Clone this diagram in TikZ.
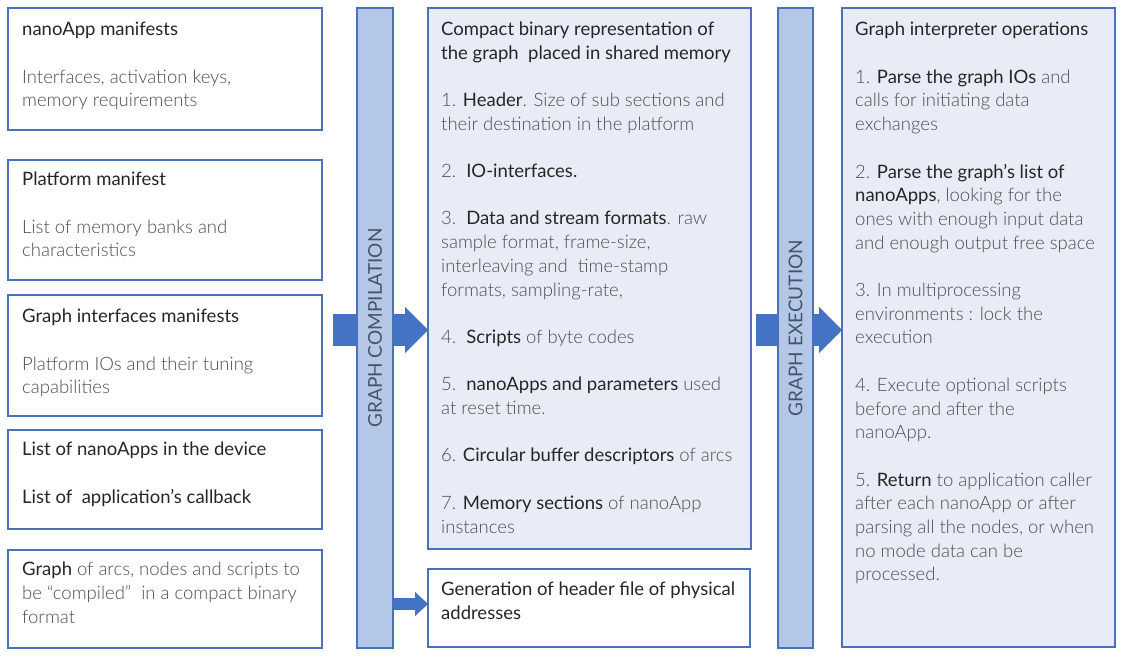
\documentclass[tikz,border=0pt]{standalone}
\usepackage{fontspec}
\setmainfont{Lato Light}
\newfontfamily\regfont{Lato}
\usepackage{xcolor}
\usetikzlibrary{arrows.meta}
\usetikzlibrary{backgrounds}
\definecolor{edge}{HTML}{4A72B8}
\definecolor{barfill}{HTML}{B4C7E7}
\definecolor{panel}{HTML}{E7ECF6}
\definecolor{arrowc}{HTML}{4472C4}
\definecolor{body}{HTML}{4D4D4D}
\definecolor{dark}{HTML}{262626}
\definecolor{bartext}{HTML}{44546A}
\newcommand{\hl}[1]{{\regfont\color{dark}#1}}
\newcommand{\blank}{\\[23.7pt]}
\tikzset{
	box/.style={draw=edge, line width=2pt, fill=white, anchor=north west, inner sep=0pt, outer sep=0pt},
	panelbox/.style={box, fill=panel},
	bar/.style={box, fill=barfill},
	txt/.style={anchor=north west, inner sep=0pt, align=left, text=body,
		font=\fontsize{18.5}{23.7}\selectfont},
	bartxt/.style={rotate=90, text=bartext, font=\regfont\fontsize{19}{23.7}\selectfont},
	fat/.style={draw=arrowc, line width=32pt, -{Triangle[length=23pt,width=46pt,line width=0.1pt]}},
	slim/.style={draw=arrowc, line width=12pt, -{Triangle[length=13pt,width=24pt,line width=0.1pt]}}
}

\begin{document}
\begin{tikzpicture}[x=1pt,y=-1pt]
	\useasboundingbox (0,0) rectangle (1122,658);
	
	% inputs
	\node[box, minimum width=314, minimum height=122] (nano) at (8,8) {};
	\node[box, minimum width=314, minimum height=120] (plat) at (8,160) {};
	\node[box, minimum width=314, minimum height=121] (gif) at (8,295) {};
	\node[box, minimum width=314, minimum height=99] (apps) at (8,430) {};
	\node[box, minimum width=314, minimum height=98] (graph) at (8,550) {};
	
	\node[txt] (nanoT) at ([shift={(14,14)}]nano.north west) {\hl{nanoApp manifests}\blank
		Interfaces, activation keys,\\ memory requirements};
	\node[txt] (platT) at ([shift={(14,12)}]plat.north west) {\hl{Platform manifest}\blank
		List of memory banks and\\ characteristics};
	\node[txt] (gifT) at ([shift={(14,14)}]gif.north west) {\hl{Graph interfaces manifests}\blank
		Platform IOs and their tuning\\ capabilities};
	\node[txt] (appsT) at ([shift={(14,12)}]apps.north west) {\hl{List of nanoApps in the device}\blank
		\hl{List of\ \ application’s callback}};
	\node[txt] (graphT) at ([shift={(14,12)}]graph.north west) {\hl{Graph} of arcs, nodes and scripts to\\
		be “compiled”\ \ in a compact binary\\ format};
	
	% compilation
	\node[bar, minimum width=36, minimum height=640] (comp) at (357,8) {};
	\node[bartxt] (compT) at (comp.center) {GRAPH COMPILATION};
	
	\node[panelbox, minimum width=323, minimum height=541] (repr) at (428,8) {};
	\node[box, minimum width=322, minimum height=78] (hdr) at (428,569) {};
	
	\node[txt] (reprT) at ([shift={(13,13.5)}]repr.north west) {\hl{Compact binary representation of}\\
		\hl{the graph\ \ placed in shared memory}\blank
		1. \hl{Header}. Size of sub sections and\\ their destination in the platform\blank
		2.\ \ \hl{IO-interfaces.}\blank
		3.\ \ \hl{Data and stream formats}. raw\\ sample format, frame-size,\\
		interleaving and\ \ time-stamp\\ formats, sampling-rate,\blank
		4.\ \ \hl{Scripts} of byte codes\blank
		5.\ \ \hl{nanoApps and parameters} used\\ at reset time.\blank
		6. \hl{Circular buffer descriptors} of arcs\blank
		7. \hl{Memory sections} of nanoApp\\ instances};
	\node[txt] (hdrT) at ([shift={(13,13)}]hdr.north west) {\hl{Generation of header file of physical}\\
		\hl{addresses}};
	
	% execution
	\node[bar, minimum width=35, minimum height=640] (exec) at (778,8) {};
	\node[bartxt] (execT) at (exec.center) {GRAPH EXECUTION};
	
	\node[panelbox, minimum width=273, minimum height=639] (ops) at (842,8) {};
	\node[txt] (opsT) at ([shift={(13,14)}]ops.north west) {\hl{Graph interpreter operations}\blank
		1. \hl{Parse the graph IOs} and\\ calls for initiating data\\ exchanges\blank
		2. \hl{Parse the graph’s list of}\\ \hl{nanoApps}, looking for the\\
		ones with enough input data\\ and enough output free space\blank
		3. In multiprocessing\\ environments : lock the\\ execution\blank
		4. Execute optional scripts\\ before and after the\\ nanoApp.\blank
		5. \hl{Return} to application caller\\ after each nanoApp or after\\
		parsing all the nodes, or when\\ no mode data can be\\ processed.};
	
	% arrows behind the bars
	\begin{scope}[on background layer]
		\coordinate (in) at (333,330);
		\coordinate (out) at (756,330);
		\coordinate (side) at (393,604);
		\draw[fat] (in) -- (in -| repr.west);
		\draw[fat] (out) -- (out -| ops.west);
		\draw[slim] (side) -- (side -| hdr.west);
	\end{scope}
\end{tikzpicture}
\end{document}
